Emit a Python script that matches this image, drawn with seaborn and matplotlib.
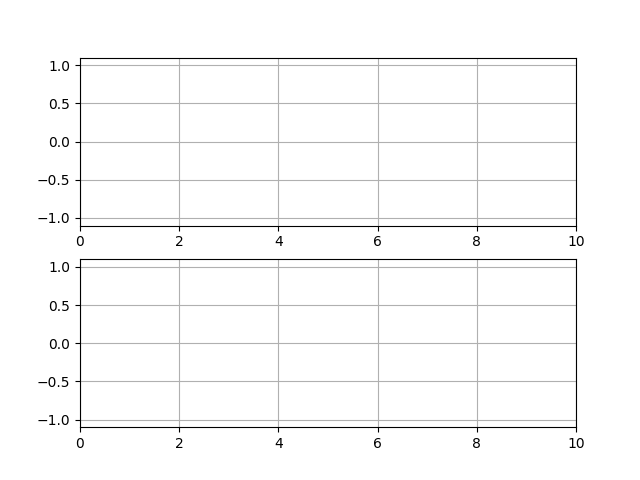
import matplotlib
matplotlib.use("Agg")
import matplotlib.pyplot as plt
import seaborn as sns

# Two empty panels (the lines have no points yet)
x_top = []
y_top = []
x_bottom = []
y_bottom = []

x_limits = (0, 10)
y_limits = (-1.1, 1.1)

fig, axes = plt.subplots(2, 1, figsize=(6.4, 4.8), dpi=100)

for ax, xs, ys in zip(axes, [x_top, x_bottom], [y_top, y_bottom]):
    if len(xs) > 0:
        sns.lineplot(x=xs, y=ys, ax=ax)
    else:
        ax.plot(xs, ys, lw=2)
    ax.set_xlim(*x_limits)
    ax.set_ylim(*y_limits)
    ax.grid(True)

fig.savefig("out.png", dpi=100)
